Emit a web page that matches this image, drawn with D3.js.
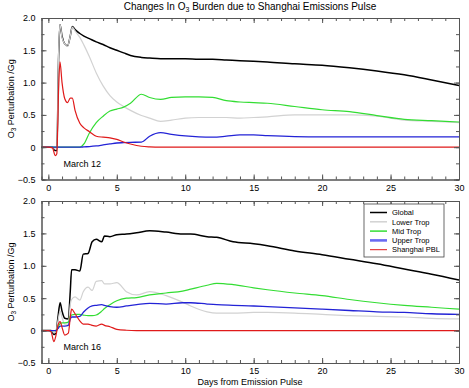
<!DOCTYPE html>
<html>
<head>
<meta charset="utf-8">
<script src="https://cdn.jsdelivr.net/npm/d3@7"></script>
<style>
body { margin: 0; background: #fff; }
text { font-family: "Liberation Sans", Arial, sans-serif; fill: #000; }
</style>
</head>
<body>
<svg width="469" height="388"></svg>
<script>
// series names, in drawing order
var seriesNames = ['Global', 'Lower Trop', 'Mid Trop', 'Upper Trop', 'Shanghai PBL'];

// March 12 pulse (top panel)
var days12   = [-0.5, 0, 0.3, 0.5, 0.62, 0.75, 0.85, 1.0, 1.2, 1.4, 1.6, 1.75, 1.95, 2.3, 2.6, 3.0, 3.5, 4, 4.5, 5, 5.5, 6, 6.8, 7.4, 8.2, 9, 10, 11, 12, 13, 14, 15, 16, 18, 20, 22, 24, 26, 28, 30];
var global12 = [0, 0, 0, -0.05, -0.05, 1.4, 1.9, 1.72, 1.6, 1.57, 1.72, 1.87, 1.82, 1.76, 1.72, 1.68, 1.63, 1.59, 1.54, 1.5, 1.46, 1.42, 1.39, 1.38, 1.37, 1.37, 1.37, 1.36, 1.36, 1.35, 1.34, 1.33, 1.32, 1.29, 1.27, 1.23, 1.18, 1.12, 1.04, 0.955];
var lower12  = [0, 0, 0, -0.03, -0.03, 1.45, 1.9, 1.7, 1.6, 1.56, 1.72, 1.86, 1.8, 1.7, 1.58, 1.4, 1.15, 0.95, 0.8, 0.7, 0.63, 0.57, 0.49, 0.45, 0.4, 0.42, 0.45, 0.46, 0.46, 0.46, 0.45, 0.46, 0.47, 0.5, 0.5, 0.5, 0.48, 0.42, 0.4, 0.38];
var mid12    = [0, 0, 0, 0, 0, 0, 0, 0, 0, 0, 0, 0, 0, 0, 0.05, 0.22, 0.38, 0.48, 0.56, 0.59, 0.62, 0.68, 0.82, 0.77, 0.74, 0.77, 0.78, 0.78, 0.77, 0.72, 0.7, 0.69, 0.68, 0.63, 0.58, 0.55, 0.49, 0.43, 0.41, 0.39];
var upper12  = [0, 0, 0, 0, 0, 0, 0, 0, 0, 0, 0, 0, 0, 0, 0.005, 0.01, 0.02, 0.035, 0.05, 0.065, 0.07, 0.075, 0.08, 0.17, 0.225, 0.2, 0.175, 0.16, 0.155, 0.17, 0.19, 0.19, 0.18, 0.165, 0.16, 0.16, 0.16, 0.16, 0.16, 0.16];
var pbl12    = [0, 0, -0.01, -0.13, -0.1, 0.9, 1.32, 1.0, 0.75, 0.69, 0.76, 0.76, 0.57, 0.37, 0.3, 0.24, 0.17, 0.155, 0.145, 0.12, 0.08, 0.05, 0.015, 0.005, 0, 0, 0, 0, 0, 0, 0, 0, 0, 0, 0, 0, 0, 0, 0, 0];

// March 16 pulse (bottom panel)
var days16   = [-0.5, 0, 0.2, 0.4, 0.55, 0.7, 0.86, 1.0, 1.2, 1.46, 1.6, 1.7, 1.95, 2.3, 2.55, 2.9, 3.2, 3.5, 3.9, 4.1, 4.5, 5, 5.7, 6.45, 7.4, 8.6, 9.8, 10.4, 11.6, 12.3, 13.5, 15, 16, 18, 20, 22, 24, 26, 28, 30];
var global16 = [0, 0, 0, -0.06, -0.04, 0.2, 0.43, 0.3, 0.19, 0.18, 0.6, 0.94, 0.94, 0.92, 1.18, 1.19, 1.37, 1.41, 1.37, 1.46, 1.45, 1.48, 1.49, 1.51, 1.54, 1.52, 1.49, 1.49, 1.45, 1.44, 1.37, 1.34, 1.31, 1.23, 1.17, 1.1, 1.03, 0.95, 0.87, 0.78];
var lower16  = [0, 0, 0, -0.03, -0.02, 0.15, 0.3, 0.2, 0.1, 0.1, 0.4, 0.48, 0.52, 0.47, 0.6, 0.67, 0.62, 0.76, 0.77, 0.72, 0.72, 0.74, 0.6, 0.55, 0.6, 0.54, 0.44, 0.38, 0.29, 0.27, 0.27, 0.28, 0.28, 0.27, 0.25, 0.23, 0.22, 0.21, 0.19, 0.18];
var mid16    = [0, 0, 0, 0, 0, 0.05, 0.11, 0.12, 0.12, 0.13, 0.22, 0.24, 0.25, 0.25, 0.24, 0.23, 0.23, 0.24, 0.3, 0.34, 0.4, 0.46, 0.5, 0.51, 0.55, 0.58, 0.61, 0.64, 0.7, 0.73, 0.71, 0.66, 0.63, 0.58, 0.54, 0.48, 0.43, 0.39, 0.36, 0.33];
var upper16  = [0, 0, 0, 0, 0, 0.03, 0.07, 0.07, 0.07, 0.08, 0.18, 0.21, 0.21, 0.22, 0.28, 0.35, 0.38, 0.39, 0.4, 0.39, 0.37, 0.36, 0.38, 0.4, 0.42, 0.41, 0.43, 0.43, 0.41, 0.4, 0.39, 0.38, 0.37, 0.35, 0.33, 0.31, 0.29, 0.28, 0.26, 0.25];
var pbl16    = [0, 0, -0.02, -0.17, -0.08, 0.08, 0.14, 0.05, -0.07, -0.04, 0.2, 0.33, 0.26, 0.15, 0.1, 0.1, 0.08, 0.07, 0.1, 0.08, 0.06, 0.02, 0.005, 0, 0, 0, 0, 0, 0, 0, 0, 0, 0, 0, 0, 0, 0, 0, 0, 0];

var xTicks = [0, 5, 10, 15, 20, 25, 30];
var yTicks = [-0.5, 0, 0.5, 1.0, 1.5, 2.0];

var colors = ['#000000', '#d2d2d2', '#33dd33', '#2323d6', '#e01a1a'];
var widths = [1.5, 1.2, 1.2, 1.3, 1.2];

var svg = d3.select('svg');
svg.append('rect').attr('width', 469).attr('height', 388).attr('fill', '#fff');

var xScale = d3.scaleLinear().domain([-0.5, 30]).range([41.5, 459]);

function fmtY(d) {
    return d === 0 ? '0' : d3.format('.1f')(d);
}

function drawPanel(yTop, yBottom, days, series, label) {
    var yScale = d3.scaleLinear().domain([-0.5, 2.0]).range([yBottom, yTop]);
    var g = svg.append('g');

    // lines
    var line = d3.line()
        .x(function(d) { return xScale(d[0]); })
        .y(function(d) { return yScale(d[1]); })
        .curve(d3.curveMonotoneX);

    series.forEach(function(vals, i) {
        var pts = days.map(function(d, j) { return [d, vals[j]]; });
        g.append('path')
            .datum(pts)
            .attr('fill', 'none')
            .attr('stroke', colors[i])
            .attr('stroke-width', widths[i])
            .attr('d', line);
    });

    // axes, ticks inward on all four sides
    var axisCol = '#555';
    var bottomAx = g.append('g').attr('transform', 'translate(0,' + yBottom + ')')
        .call(d3.axisBottom(xScale).tickValues(xTicks).tickSizeInner(-5).tickSizeOuter(0).tickPadding(5));
    g.append('g').attr('transform', 'translate(0,' + yBottom + ')')
        .call(d3.axisBottom(xScale).tickValues(d3.range(0, 31, 1)).tickSize(-3).tickFormat(''));
    g.append('g').attr('transform', 'translate(0,' + yTop + ')')
        .call(d3.axisTop(xScale).tickValues(xTicks).tickSizeInner(-5).tickSizeOuter(0).tickFormat(''));
    g.append('g').attr('transform', 'translate(0,' + yTop + ')')
        .call(d3.axisTop(xScale).tickValues(d3.range(0, 31, 1)).tickSize(-3).tickFormat(''));

    var leftAx = g.append('g').attr('transform', 'translate(41.5,0)')
        .call(d3.axisLeft(yScale).tickValues(yTicks).tickSizeInner(-5).tickSizeOuter(0).tickPadding(6).tickFormat(fmtY));
    g.append('g').attr('transform', 'translate(41.5,0)')
        .call(d3.axisLeft(yScale).tickValues(d3.range(-0.5, 2.01, 0.25)).tickSize(-3).tickFormat(''));
    g.append('g').attr('transform', 'translate(459,0)')
        .call(d3.axisRight(yScale).tickValues(yTicks).tickSizeInner(-5).tickSizeOuter(0).tickFormat(''));
    g.append('g').attr('transform', 'translate(459,0)')
        .call(d3.axisRight(yScale).tickValues(d3.range(-0.5, 2.01, 0.25)).tickSize(-3).tickFormat(''));

    g.selectAll('.domain, .tick line').attr('stroke', axisCol);
    g.selectAll('.tick text').style('font-family', '"Liberation Sans", Arial, sans-serif').style('font-size', '9px').attr('fill', '#000');

    // y label
    var cy = (yTop + yBottom) / 2;
    var yl = g.append('text')
        .attr('transform', 'translate(14,' + cy + ') rotate(-90)')
        .attr('text-anchor', 'middle')
        .style('font-size', '9px');
    yl.append('tspan').text('O');
    yl.append('tspan').attr('dy', 2).style('font-size', '6.5px').text('3');
    yl.append('tspan').attr('dy', -2).text(' Perturbation /Gg');

    // date annotation
    g.append('text')
        .attr('x', 63.5)
        .attr('y', yScale(-0.25) + 3.5)
        .style('font-size', '9px')
        .text(label);
}

drawPanel(18, 179.5, days12, [global12, lower12, mid12, upper12, pbl12], 'March 12');
drawPanel(201, 363, days16, [global16, lower16, mid16, upper16, pbl16], 'March 16');

// title
var title = svg.append('text')
    .attr('x', 250).attr('y', 10)
    .attr('text-anchor', 'middle')
    .style('font-size', '10px');
title.append('tspan').text('Changes In O');
title.append('tspan').attr('dy', 2).style('font-size', '7px').text('3');
title.append('tspan').attr('dy', -2).text(' Burden due to Shanghai Emissions Pulse');

// x label
svg.append('text')
    .attr('x', 250).attr('y', 385)
    .attr('text-anchor', 'middle')
    .style('font-size', '9px')
    .text('Days from Emission Pulse');

// legend
var legend = svg.append('g').attr('transform', 'translate(364,204)');
legend.append('rect')
    .attr('width', 80).attr('height', 53)
    .attr('fill', '#fff').attr('stroke', '#444').attr('stroke-width', 0.8);
seriesNames.forEach(function(name, i) {
    var ly = 8.5 + i * 9.3;
    legend.append('line')
        .attr('x1', 6).attr('x2', 23)
        .attr('y1', ly).attr('y2', ly)
        .attr('stroke', i === 3 ? '#6a6af2' : colors[i])
        .attr('stroke-width', i === 3 ? 2.6 : (i === 4 ? 1 : 1.5));
    legend.append('text')
        .attr('x', 28).attr('y', ly + 2.7)
        .style('font-size', '7.5px')
        .text(name);
});
</script>
</body>
</html>
